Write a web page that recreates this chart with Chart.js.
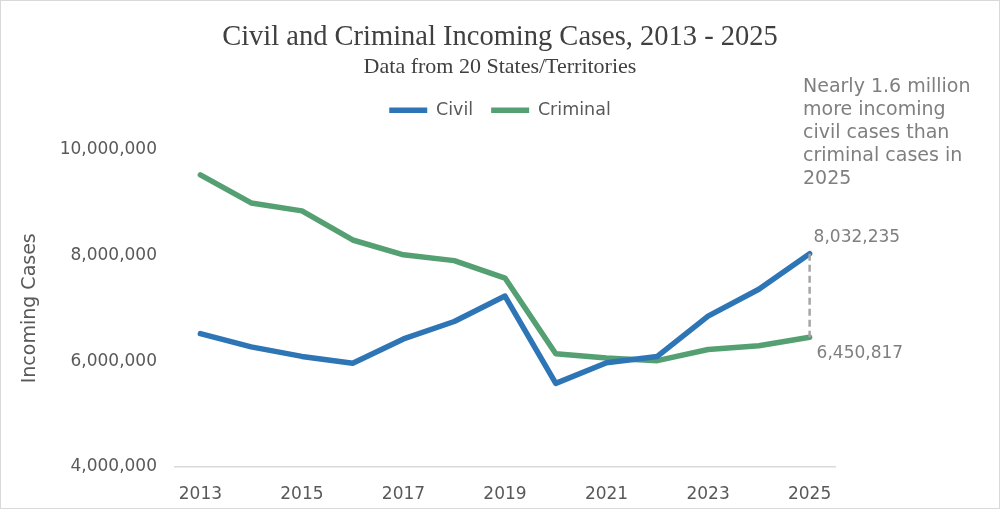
<!DOCTYPE html>
<html>
<head>
<meta charset="utf-8">
<script src="https://cdn.jsdelivr.net/npm/chart.js@4"></script>
<style>
  html, body { margin: 0; padding: 0; background: #fff; }
  #wrap { width: 1000px; height: 509px; position: relative; }
</style>
</head>
<body>
<div id="wrap"><canvas id="casesChart"></canvas></div>
<script>
// Datos
const years = ['2013', '2014', '2015', '2016', '2017', '2018', '2019', '2020', '2021', '2022', '2023', '2024', '2025'];
const civil = [6520000, 6270000, 6090000, 5960000, 6420000, 6750000, 7230000, 5580000, 5970000, 6090000, 6850000, 7360000, 8032235];
const criminal = [9520000, 8990000, 8840000, 8290000, 8010000, 7900000, 7570000, 6140000, 6060000, 6010000, 6220000, 6290000, 6450817];
const yTicks = [4000000, 6000000, 8000000, 10000000];
const noteLines = ['Nearly 1.6 million', 'more incoming', 'civil cases than', 'criminal cases in', '2025'];

const SANS = '"DejaVu Sans", Verdana, sans-serif';
const SERIF = '"Liberation Serif", "DejaVu Serif", serif';

// Fondo blanco y borde gris del recuadro
const fondo = {
    id: 'fondo',
    beforeDraw(chart) {
        const ctx = chart.ctx;
        ctx.save();
        ctx.fillStyle = '#ffffff';
        ctx.fillRect(0, 0, chart.width, chart.height);
        ctx.strokeStyle = '#d9d9d9';
        ctx.lineWidth = 1;
        ctx.strokeRect(0.5, 0.5, chart.width - 1, chart.height - 1);
        ctx.restore();
    }
};

// Línea discontinua entre los valores de 2025 y las notas
const anotaciones = {
    id: 'anotaciones',
    afterDatasetsDraw(chart) {
        const ctx = chart.ctx;
        const xs = chart.scales.x;
        const ys = chart.scales.y;
        const last = years.length - 1;
        const x = xs.getPixelForValue(last);
        const yCivil = ys.getPixelForValue(civil[last]);
        const yCrim = ys.getPixelForValue(criminal[last]);

        ctx.save();
        ctx.strokeStyle = '#a6a6a6';
        ctx.lineWidth = 2.5;
        ctx.setLineDash([7, 4]);
        ctx.beginPath();
        ctx.moveTo(x, yCivil);
        ctx.lineTo(x, yCrim);
        ctx.stroke();
        ctx.setLineDash([]);

        ctx.fillStyle = '#7f7f7f';
        ctx.font = '17px ' + SANS;
        ctx.textAlign = 'left';
        ctx.textBaseline = 'middle';
        ctx.fillText(civil[last].toLocaleString('en-US'), x + 4, yCivil - 16);
        ctx.fillText(criminal[last].toLocaleString('en-US'), x + 7, yCrim + 16);

        ctx.font = '19px ' + SANS;
        noteLines.forEach((linea, i) => {
            ctx.fillText(linea, 803, 87 + i * 23);
        });
        ctx.restore();
    }
};

const ctx = document.getElementById('casesChart').getContext('2d');
new Chart(ctx, {
    type: 'line',
    data: {
        labels: years,
        datasets: [{
            label: 'Civil',
            data: civil,
            xAxisID: 'x',
            yAxisID: 'y',
            borderColor: '#2e75b6',
            backgroundColor: '#2e75b6',
            borderWidth: 5.5,
            borderCapStyle: 'round',
            borderJoinStyle: 'round',
            pointRadius: 0,
            tension: 0,
            fill: false
        }, {
            label: 'Criminal',
            data: criminal,
            xAxisID: 'x',
            yAxisID: 'y',
            borderColor: '#55a072',
            backgroundColor: '#55a072',
            borderWidth: 5.5,
            borderCapStyle: 'round',
            borderJoinStyle: 'round',
            pointRadius: 0,
            tension: 0,
            fill: false
        }]
    },
    options: {
        responsive: true,
        maintainAspectRatio: false,
        animation: false,
        layout: {
            padding: { left: 0, right: 0, top: 23, bottom: 0 }
        },
        scales: {
            x: {
                offset: true,
                grid: { display: false },
                border: { display: true, color: '#d9d9d9', width: 1.5 },
                ticks: {
                    autoSkip: false,
                    maxRotation: 0,
                    color: '#595959',
                    font: { family: SANS, size: 17 },
                    padding: 9,
                    callback: function (value, index) {
                        return index % 2 === 0 ? years[index] : '';
                    }
                },
                afterFit: function (scale) { scale.height = 42; }
            },
            // ejes vacíos que solo reservan espacio
            gap: {
                position: 'top',
                type: 'linear',
                display: true,
                grid: { display: false },
                border: { display: false },
                ticks: { display: false },
                afterFit: function (scale) { scale.height = 20.5; }
            },
            margen: {
                position: 'right',
                axis: 'y',
                type: 'linear',
                display: true,
                grid: { display: false },
                border: { display: false },
                ticks: { display: false },
                afterFit: function (scale) { scale.width = 165; }
            },
            y: {
                min: 4000000,
                max: 10000000,
                grid: { display: false, drawTicks: false },
                border: { display: false },
                afterBuildTicks: function (scale) {
                    scale.ticks = yTicks.map(v => ({ value: v }));
                },
                ticks: {
                    color: '#595959',
                    font: { family: SANS, size: 17 },
                    padding: 18,
                    callback: function (value) {
                        return value.toLocaleString('en-US');
                    }
                },
                title: {
                    display: true,
                    text: 'Incoming Cases',
                    color: '#595959',
                    font: { family: SANS, size: 19 },
                    padding: { top: 19, bottom: 0 }
                },
                afterFit: function (scale) { scale.width = 175; }
            }
        },
        plugins: {
            title: {
                display: true,
                text: 'Civil and Criminal Incoming Cases, 2013 - 2025',
                color: '#404040',
                font: { family: SERIF, size: 28.5, weight: 'normal', lineHeight: 1 },
                padding: { top: 0, bottom: 0 }
            },
            subtitle: {
                display: true,
                text: 'Data from 20 States/Territories',
                color: '#404040',
                font: { family: SERIF, size: 22, lineHeight: 1 },
                padding: { top: 5, bottom: 5 }
            },
            legend: {
                display: true,
                position: 'top',
                labels: {
                    usePointStyle: true,
                    pointStyle: 'line',
                    pointStyleWidth: 38,
                    color: '#595959',
                    font: { family: SANS, size: 17.5 },
                    padding: 18
                }
            },
            tooltip: { enabled: false }
        }
    },
    plugins: [fondo, anotaciones]
});
</script>
</body>
</html>
